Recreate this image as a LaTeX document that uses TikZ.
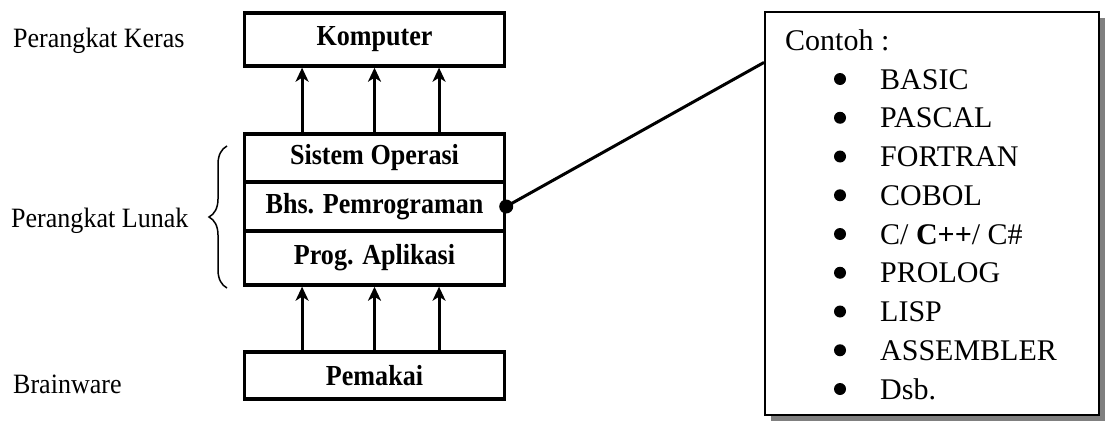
\documentclass[tikz,border=0pt]{standalone}
\usepackage{fontspec}
\setmainfont{Liberation Serif}
\newfontfamily\lblfont[FakeStretch=0.93]{Liberation Serif}
\newfontfamily\boxfont[FakeStretch=0.9]{Liberation Serif}
\usetikzlibrary{calc,shadows,arrows.meta,decorations.pathreplacing}
\begin{document}
\begin{tikzpicture}[x=1pt,y=-1pt,
  box/.style={draw,line width=3.4pt,minimum width=260pt,inner sep=0pt,font=\boxfont\fontsize{29}{32}\selectfont\bfseries},
  lbl/.style={anchor=base west,inner sep=0pt,font=\lblfont\fontsize{28}{32}\selectfont},
  arr/.style={-{Stealth[length=14pt,width=13pt,inset=4pt]},line width=3pt},
  item/.style={anchor=base west,inner sep=0pt,font=\fontsize{30}{34}\selectfont},
  bul/.style={circle,fill,inner sep=0pt,minimum size=12pt}]
\useasboundingbox (0,0) rectangle (1108,423);

\node[box,minimum height=53pt] (komp) at (374.5,39.5) {Komputer};
\node[box,minimum height=48pt] (sis) at (374.5,158) {Sistem Operasi};
\node[box,minimum height=49pt] (bhs) at (374.5,206.5) {Bhs. Pemrograman};
\node[box,minimum height=54pt] (prog) at (374.5,258) {Prog. Aplikasi};
\node[box,minimum height=47pt] (pem) at (374.5,375.5) {Pemakai};

\foreach \f in {0.225,0.5,0.745}{
  \draw[arr] ($(sis.north west)!\f!(sis.north east)$) -- ($(komp.south west)!\f!(komp.south east)$);
  \draw[arr] ($(pem.north west)!\f!(pem.north east)$) -- ($(prog.south west)!\f!(prog.south east)$);
}

\node[lbl] (hw) at (13,47) {Perangkat Keras};
\node[lbl] (sw) at (11,227) {Perangkat Lunak};
\node[lbl] (bw) at (13,393) {Brainware};

\coordinate (bb) at (227,288);
\coordinate (bt) at (227,146);
\draw[decorate,decoration={brace,amplitude=18pt},line width=1.5pt] (bb) -- (bt);

\node[draw,line width=2pt,fill=white,minimum width=334pt,minimum height=403pt,inner sep=0pt,
  drop shadow={shadow xshift=6pt,shadow yshift=-6pt,fill=gray,opacity=1}] (ex) at (932,213.5) {};

\node[circle,fill,inner sep=0pt,minimum size=14pt] (dot) at (bhs.east) {};
\draw[line width=3pt] (dot.center) -- ($(ex.north west)!0.127!(ex.south west)$);

\node[item] (contoh) at (785,50) {Contoh :};
\foreach \t [count=\i from 0] in {BASIC,PASCAL,FORTRAN,COBOL,{C/ \textbf{C++}/ C\#},PROLOG,LISP,ASSEMBLER,Dsb.}{
  \pgfmathsetmacro\yy{89+38.75*\i}
  \node[item] (it\i) at (880,\yy) {\t};
  \node[bul] (b\i) at (840,\yy-10) {};
}
\end{tikzpicture}
\end{document}
